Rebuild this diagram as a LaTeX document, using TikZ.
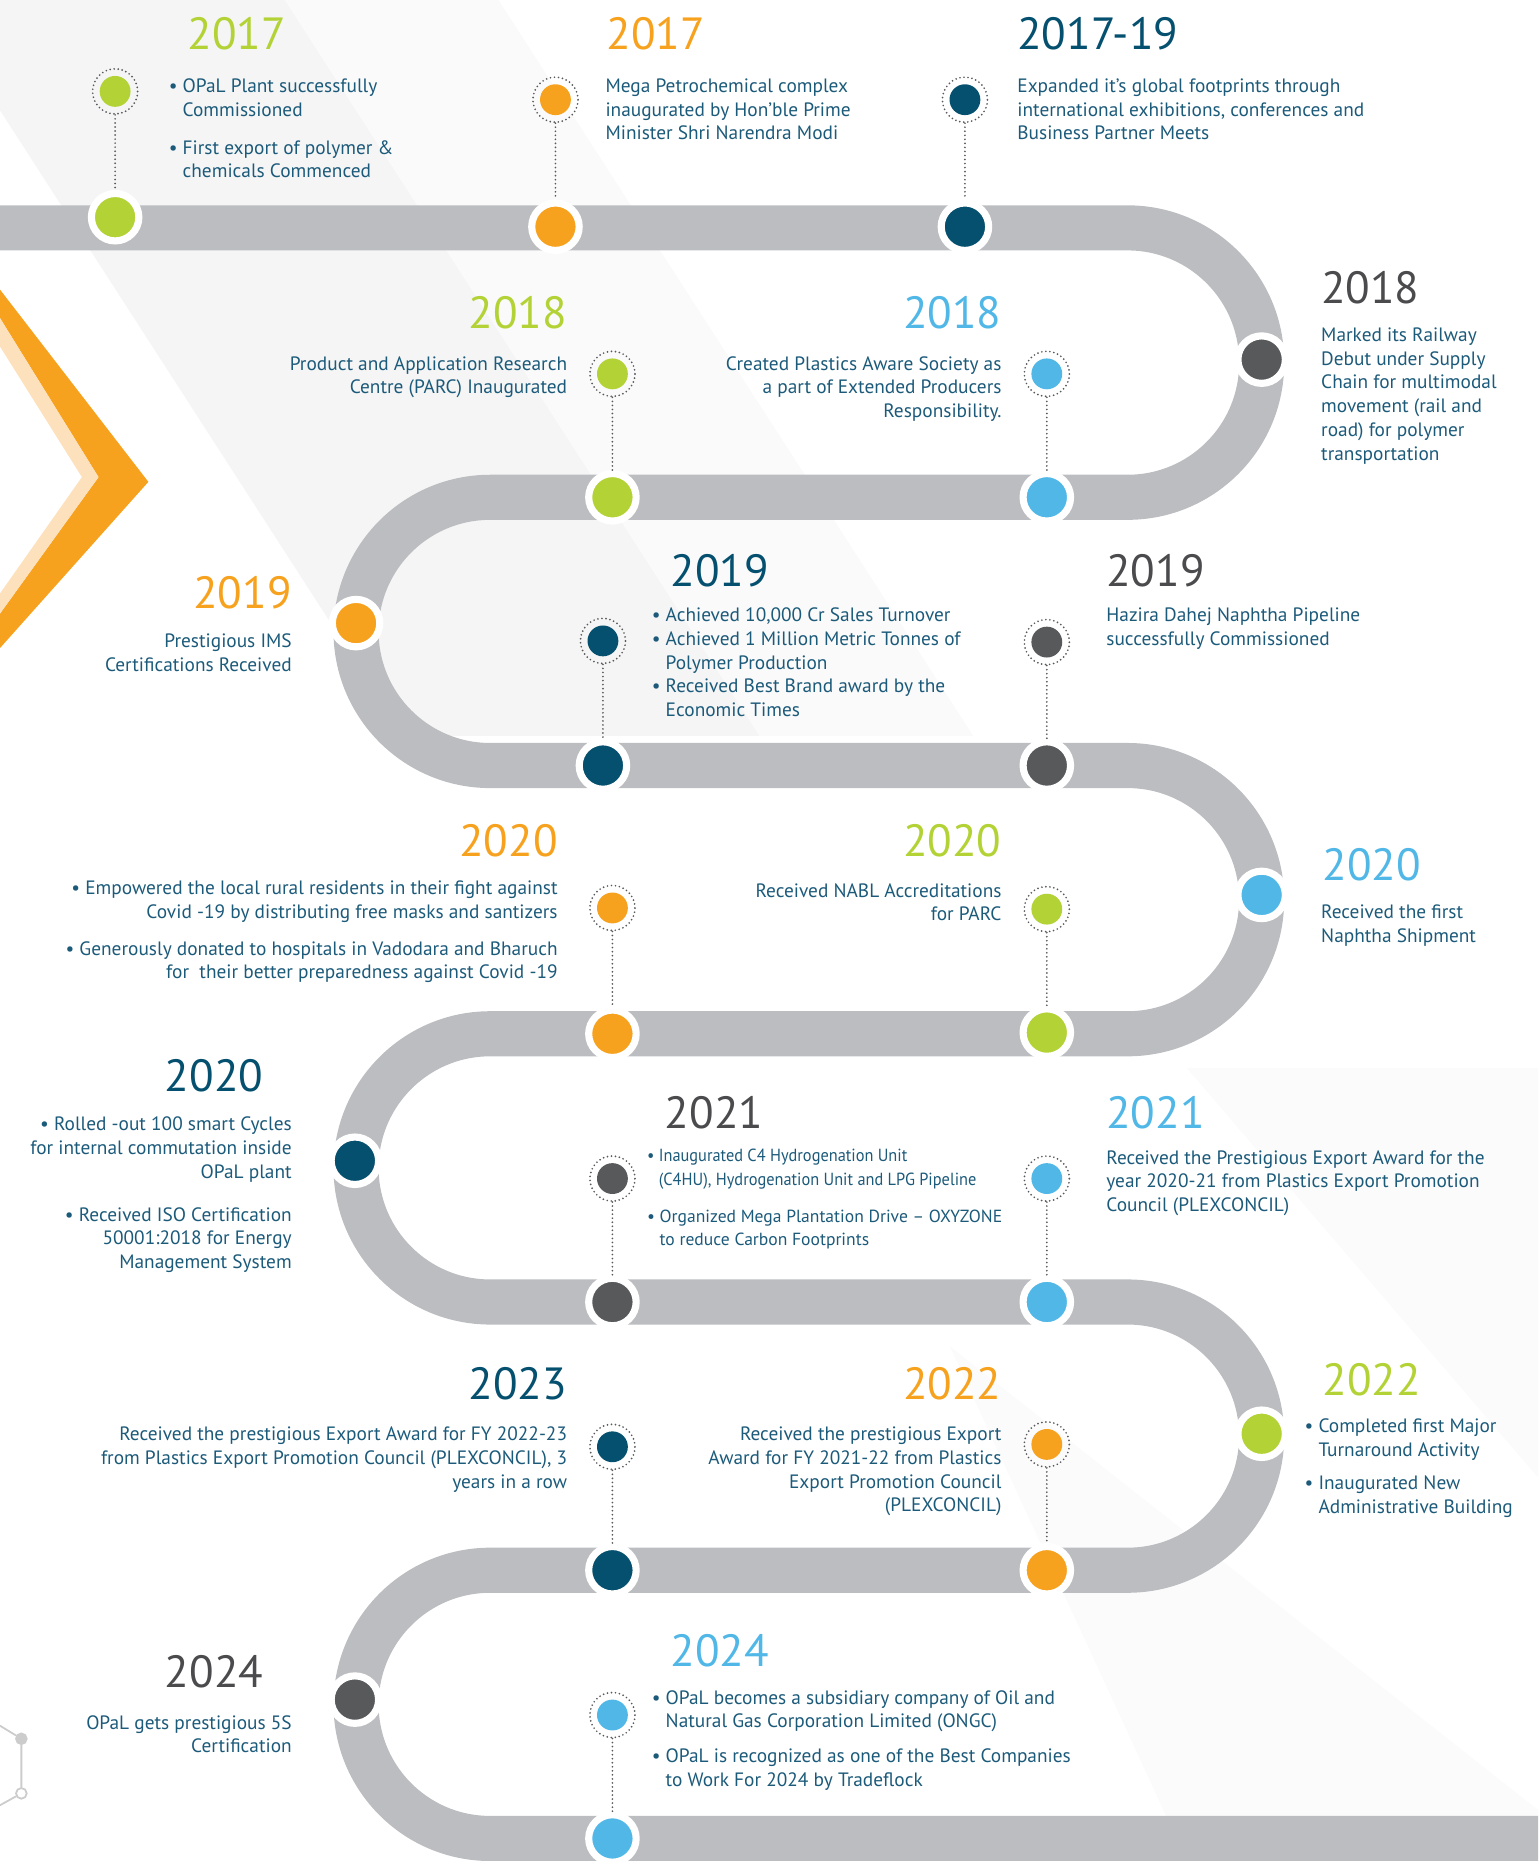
\documentclass[tikz,border=0pt]{standalone}
\usepackage{fontspec}
\setmainfont{PT Sans}
\newfontfamily\narrowfont[FakeStretch=0.93]{PT Sans}
\usepackage{tikz}

\definecolor{lime}{HTML}{B3D235}
\definecolor{amber}{HTML}{F7A21F}
\definecolor{navy}{HTML}{06506F}
\definecolor{slate}{HTML}{58595B}
\definecolor{sky}{HTML}{50B7E7}
\definecolor{roadgrey}{HTML}{BCBDC0}
\definecolor{infotext}{HTML}{1C5A7A}
\definecolor{yeargrey}{HTML}{4B4B4D}
\definecolor{peach}{HTML}{FDE1BC}

\newcommand{\bul}{\textbullet\ }
\newcommand{\bulpad}{\hphantom{\textbullet\ }}

\begin{document}
\begin{tikzpicture}
		[x=1pt,y=-1pt,line cap=round,
		%Styles
		road/.style={line width=38pt,draw=roadgrey,line cap=butt,rounded corners=113pt},
		roadstop/.style={circle,fill=#1,draw=white,line width=6pt,minimum size=40pt,inner sep=0pt},
		tagring/.style={circle,draw=slate,line width=1.6pt,dash pattern=on 0pt off 3.4pt,minimum size=38pt,inner sep=0pt,
			path picture={\fill[#1] (path picture bounding box.center) circle (13pt);}},
		leader/.style={draw=slate,line width=1.6pt,dash pattern=on 0pt off 3.4pt},
		year/.style={text=#1,font=\fontsize{38}{40}\selectfont,inner sep=0pt},
		info/.style={text=infotext,font=\fontsize{16.3}{20}\selectfont,inner sep=0pt,execute at begin node=\strut},
		atom/.style={circle,draw=black!20,line width=1.5pt,minimum size=9pt,inner sep=0pt}
		]
		
		\useasboundingbox (0,0) rectangle (1296,1568);
		
		%Backdrop
		\fill[black!4] (-60,0) -- (240,0) -- (640,620) -- (340,620) -- cycle;
		\fill[black!2] (240,0) -- (420,0) -- (820,620) -- (640,620) -- cycle;
		\fill[black!1.5] (1000,900) -- (1296,900) -- (1296,1245) -- cycle;
		\fill[black!1.5] (800,1134) -- (1296,1525) -- (1296,1568) -- (1000,1568) -- cycle;
		
		%Chevron
		\fill[amber] (0,244) -- (125,406) -- (0,546) -- (0,517) -- (83,402) -- (0,268) -- cycle;
		\fill[peach] (0,268) -- (83,402) -- (0,517) -- (0,500) -- (69,402) -- (0,292) -- cycle;
		
		%Molecule
		\node[atom,fill=black!20] (a1) at (18,1465) {};
		\node[atom,fill=white] (a2) at (18,1511) {};
		\coordinate (a0) at (0,1454);
		\coordinate (a3) at (0,1521);
		\draw[black!20,line width=1.5pt] (a0) -- (a1) -- (a2) -- (a3);
		
		%Road
		\draw[road] (0,192) -- (1063,192) -- (1063,419) -- (300,419) -- (300,645)
			-- (1063,645) -- (1063,871) -- (300,871) -- (300,1097) -- (1063,1097)
			-- (1063,1323) -- (300,1323) -- (300,1549) -- (1296,1549);
		
		\node[roadstop=lime] (s1) at (97,183) {};
		\node[roadstop=amber] (s2) at (468,191) {};
		\node[roadstop=navy] (s3) at (813,191) {};
		\node[roadstop=slate] (s4) at (1063,303) {};
		\node[roadstop=sky] (s5) at (882,419) {};
		\node[roadstop=lime] (s6) at (516,419) {};
		\node[roadstop=amber] (s7) at (300,525) {};
		\node[roadstop=navy] (s8) at (508,645) {};
		\node[roadstop=slate] (s9) at (882,645) {};
		\node[roadstop=sky] (s10) at (1063,754) {};
		\node[roadstop=lime] (s11) at (882,870) {};
		\node[roadstop=amber] (s12) at (516,871) {};
		\node[roadstop=navy] (s13) at (299,978) {};
		\node[roadstop=slate] (s14) at (516,1097) {};
		\node[roadstop=sky] (s15) at (882,1097) {};
		\node[roadstop=lime] (s16) at (1063,1208) {};
		\node[roadstop=amber] (s17) at (882,1323) {};
		\node[roadstop=navy] (s18) at (516,1323) {};
		\node[roadstop=slate] (s19) at (299,1432) {};
		\node[roadstop=sky] (s20) at (516,1549) {};
		
		\node[tagring=lime] (m1) at (97,77) {};
		\node[tagring=amber] (m2) at (468,84) {};
		\node[tagring=navy] (m3) at (813,84) {};
		\node[tagring=sky] (m5) at (882,315) {};
		\node[tagring=lime] (m6) at (516,315) {};
		\node[tagring=navy] (m8) at (508,540) {};
		\node[tagring=slate] (m9) at (882,541) {};
		\node[tagring=lime] (m11) at (882,766) {};
		\node[tagring=amber] (m12) at (516,765) {};
		\node[tagring=slate] (m14) at (516,993) {};
		\node[tagring=sky] (m15) at (882,993) {};
		\node[tagring=amber] (m17) at (882,1217) {};
		\node[tagring=navy] (m18) at (516,1219) {};
		\node[tagring=sky] (m20) at (516,1445) {};
		
		\path[leader]
			(m1) edge (s1)
			(m2) edge (s2)
			(m3) edge (s3)
			(m5) edge (s5)
			(m6) edge (s6)
			(m8) edge (s8)
			(m9) edge (s9)
			(m11) edge (s11)
			(m12) edge (s12)
			(m14) edge (s14)
			(m15) edge (s15)
			(m17) edge (s17)
			(m18) edge (s18)
			(m20) edge (s20);
		
		%Years
		\node[year=lime,anchor=base west] (y1) at (158,42) {2017};
		\node[year=amber,anchor=base west] (y2) at (511,42) {2017};
		\node[year=navy,anchor=base west] (y3) at (857,42) {2017-19};
		\node[year=yeargrey,anchor=base west] (y4) at (1113,256) {2018};
		\node[year=sky,anchor=base east] (y5) at (844,277) {2018};
		\node[year=lime,anchor=base east] (y6) at (478,277) {2018};
		\node[year=amber,anchor=base east] (y7) at (246,513) {2019};
		\node[year=navy,anchor=base west] (y8) at (565,494) {2019};
		\node[year=yeargrey,anchor=base west] (y9) at (932,494) {2019};
		\node[year=sky,anchor=base west] (y10) at (1114,742) {2020};
		\node[year=lime,anchor=base east] (y11) at (844,722) {2020};
		\node[year=amber,anchor=base east] (y12) at (470,722) {2020};
		\node[year=navy,anchor=base east] (y13) at (222,920) {2020};
		\node[year=yeargrey,anchor=base west] (y14) at (560,951) {2021};
		\node[year=sky,anchor=base west] (y15) at (932,951) {2021};
		\node[year=lime,anchor=base west] (y16) at (1114,1176) {2022};
		\node[year=amber,anchor=base east] (y17) at (844,1179) {2022};
		\node[year=navy,anchor=base east] (y18) at (478,1179) {2023};
		\node[year=yeargrey,anchor=base east] (y19) at (222,1422) {2024};
		\node[year=sky,anchor=base west] (y20) at (565,1404) {2024};
		
		%Milestones
		\node[info,anchor=north west,align=left] (t1) at (142,66)
			{\bul OPaL Plant successfully\\\bulpad Commissioned\\[12pt]\bul First export of polymer \&\\\bulpad chemicals Commenced};
		\node[info,anchor=north west,align=left] (t2) at (510,66)
			{Mega Petrochemical complex\\inaugurated by Hon’ble Prime\\Minister Shri Narendra Modi};
		\node[info,anchor=north west,align=left] (t3) at (857,66)
			{Expanded it’s global footprints through\\international exhibitions, conferences and\\Business Partner Meets};
		\node[info,anchor=north west,align=left] (t4) at (1113,276)
			{Marked its Railway\\Debut under Supply\\Chain for multimodal\\movement (rail and\\road) for polymer\\transportation};
		\node[info,anchor=north east,align=right] (t5) at (844,300)
			{Created Plastics Aware Society as\\a part of Extended Producers\\Responsibility.};
		\node[info,anchor=north east,align=right] (t6) at (478,300)
			{Product and Application Research\\Centre (PARC) Inaugurated};
		\node[info,anchor=north east,align=right] (t7) at (246,534)
			{Prestigious IMS\\Certifications Received};
		\node[info,anchor=north west,align=left] (t8) at (549,512)
			{\bul Achieved 10,000 Cr Sales Turnover\\\bul Achieved 1 Million Metric Tonnes of\\\bulpad Polymer Production\\\bul Received Best Brand award by the\\\bulpad Economic Times};
		\node[info,anchor=north west,align=left] (t9) at (932,512)
			{Hazira Dahej Naphtha Pipeline\\successfully Commissioned};
		\node[info,anchor=north west,align=left] (t10) at (1113,762)
			{Received the first\\Naphtha Shipment};
		\node[info,anchor=north east,align=right] (t11) at (844,744)
			{Received NABL Accreditations\\for PARC};
		\node[info,anchor=north east,align=right] (t12) at (470,742)
			{\bul Empowered the local rural residents in their fight against\\Covid -19 by distributing free masks and santizers\\[11pt]\bul Generously donated to hospitals in Vadodara and Bharuch\\for\ \ their better preparedness against Covid -19};
		\node[info,anchor=north east,align=right] (t13) at (246,941)
			{\bul Rolled -out 100 smart Cycles\\for internal commutation inside\\OPaL plant\\[16pt]\bul Received ISO Certification\\50001:2018 for Energy\\Management System};
		\node[info,anchor=north west,align=left,font=\fontsize{14.8}{20}\selectfont] (t14) at (545,968)
			{{\narrowfont\bul Inaugurated C4 Hydrogenation Unit}\\{\narrowfont\bulpad (C4HU), Hydrogenation Unit and LPG Pipeline}\\[11pt]\bul Organized Mega Plantation Drive – OXYZONE\\\bulpad to reduce Carbon Footprints};
		\node[info,anchor=north west,align=left] (t15) at (932,969)
			{Received the Prestigious Export Award for the\\year 2020-21 from Plastics Export Promotion\\Council (PLEXCONCIL)};
		\node[info,anchor=north west,align=left] (t16) at (1099,1195)
			{\bul Completed first Major\\\bulpad Turnaround Activity\\[8pt]\bul Inaugurated New\\\bulpad Administrative Building};
		\node[info,anchor=north east,align=right] (t17) at (844,1202)
			{Received the prestigious Export\\Award for FY 2021-22 from Plastics\\Export Promotion Council\\(PLEXCONCIL)};
		\node[info,anchor=north east,align=right] (t18) at (478,1202)
			{Received the prestigious Export Award for FY 2022-23\\from Plastics Export Promotion Council (PLEXCONCIL), 3\\years in a row};
		\node[info,anchor=north east,align=right] (t19) at (246,1445)
			{OPaL gets prestigious 5S\\Certification};
		\node[info,anchor=north west,align=left] (t20) at (549,1424)
			{\bul OPaL becomes a subsidiary company of Oil and\\\bulpad Natural Gas Corporation Limited (ONGC)\\[9pt]\bul OPaL is recognized as one of the Best Companies\\\bulpad to Work For 2024 by Tradeflock};
	\end{tikzpicture}
\end{document}
